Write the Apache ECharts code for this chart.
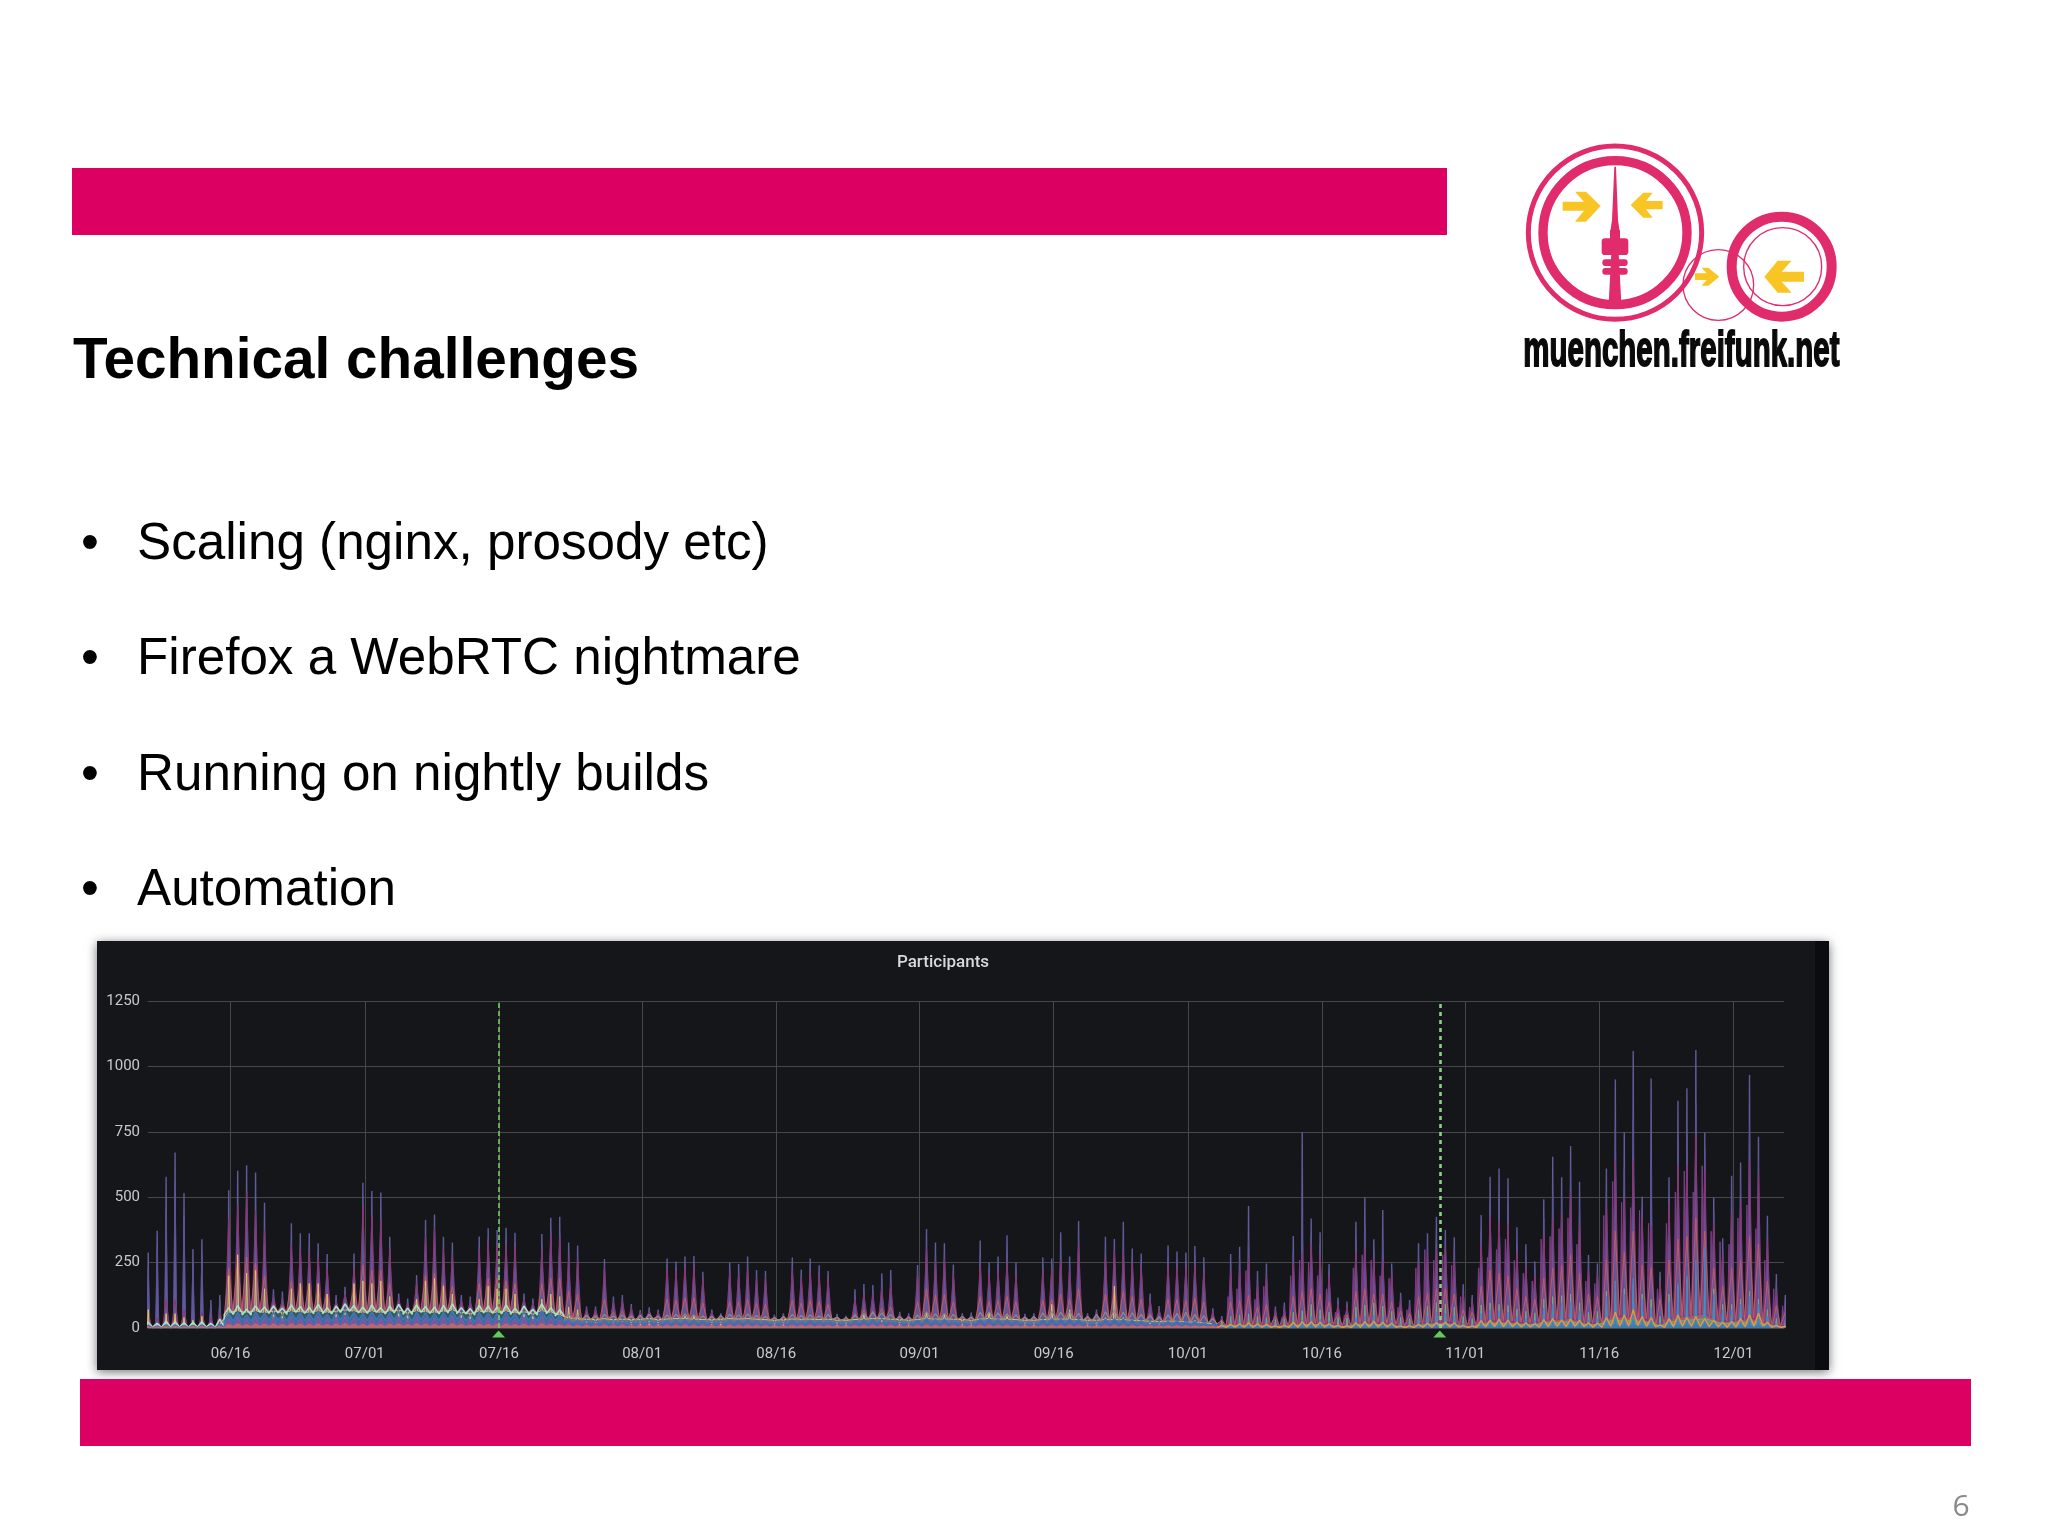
<!DOCTYPE html>
<html><head><meta charset="utf-8">
<style>html,body{margin:0;padding:0;background:#fff}#c{width:2048px;height:1536px}</style>
<script src="https://cdn.jsdelivr.net/npm/echarts@6/dist/echarts.min.js"></script>
</head><body><div id="c"></div>
<script>
const tickLabels=['06/16','07/01','07/16','08/01','08/16','09/01','09/16','10/01','10/16','11/01','11/16','12/01'];
const yTicks=[0,250,500,750,1000,1250];
const annotationTimes=[[7,15,23],[10,29,4]];
const bullets=['Scaling (nginx, prosody etc)','Firefox a WebRTC nightmare','Running on nightly builds','Automation'];
const topPeak=[289,372,578,671,515,302,339,107,126,527,
601,622,594,479,148,139,400,362,362,324,
283,126,158,285,555,524,518,349,132,113,
203,413,434,349,327,126,120,350,381,375,
383,364,132,113,359,421,425,327,315,82,
82,264,120,126,92,69,79,71,266,254,
273,275,215,71,56,250,245,273,222,218,
50,56,269,224,266,240,218,54,46,148,
168,164,209,222,62,56,241,378,327,324,
243,56,59,334,250,273,355,250,54,56,
269,266,366,273,409,56,71,349,340,406,
304,285,132,84,315,292,289,313,270,75,
46,283,311,466,218,247,82,97,352,748,
419,366,245,117,101,406,499,339,451,247,
135,107,324,362,425,375,347,167,126,432,
578,610,572,385,320,254,492,655,576,696,
559,279,247,610,950,747,1059,502,954,215,
576,869,916,1063,747,499,343,582,633,967,
731,429,206,126];
const indigoPeak=[230,300,450,560,430,250,280,90,105,400,
470,520,450,380,130,120,330,320,310,290,
250,110,140,250,470,430,420,310,115,98,
180,360,390,310,290,112,105,310,340,330,
340,325,118,100,320,370,360,290,280,74,
74,240,108,112,82,62,70,64,240,230,
245,245,195,64,50,225,220,245,200,198,
45,50,240,205,240,215,198,48,42,125,
145,142,180,190,56,50,220,320,280,285,
220,50,52,280,225,245,295,225,48,50,
240,240,300,245,340,50,64,300,300,330,
270,250,118,76,270,260,255,275,240,68,
42,245,265,340,195,220,74,84,295,420,
350,320,220,105,90,340,390,300,340,225,
120,95,285,320,360,340,300,150,115,370,
480,500,470,330,275,225,420,510,500,590,
470,250,220,520,760,610,800,460,640,195,
500,720,740,860,680,440,300,500,550,780,
640,380,175,110];
const shoulderPeak=[20,120,150,220,110,160,30,40,200,260,
250,200,150,60,50,230,280,260,200,190,
80,70,230,300,260,280,240,120,80,230,
270,300,340,260,210,180,340,350,380,420,
320,180,170,430,560,480,460,450,400,150,
400,520,600,520,620,370,330,320,420,470,
380,260,150,85];
const magentaPeak=[60,40,110,110,70,30,60,40,60,420,
470,520,450,370,120,110,320,300,290,270,
230,100,130,230,470,430,410,300,110,90,
170,350,380,300,280,105,100,300,330,320,
320,310,110,95,300,350,340,270,260,70,
70,230,100,105,75,60,65,60,230,220,
235,235,190,60,48,210,205,225,190,190,
42,48,220,190,215,205,190,46,40,110,
130,130,150,165,52,48,205,300,255,265,
205,48,50,240,205,220,250,205,46,48,
220,225,260,225,320,48,58,270,300,285,
250,235,105,70,240,235,235,240,215,60,
38,210,220,270,165,195,68,70,250,290,
320,280,200,92,80,290,310,265,260,210,
110,85,250,280,300,310,260,130,105,320,
430,410,400,290,240,200,360,420,440,520,
400,220,200,470,640,500,640,420,390,180,
480,620,620,740,600,400,280,440,480,640,
590,330,140,95];
const salmonPeak=[20,15,30,35,25,15,20,15,25,230,
260,270,250,200,90,85,180,170,170,150,
130,80,95,150,240,220,220,170,85,75,
110,200,210,170,160,80,75,170,190,190,
180,170,75,70,170,190,190,140,130,50,
50,110,60,65,50,45,48,45,110,105,
115,115,95,45,38,100,100,110,95,90,
36,38,105,95,105,100,90,36,32,55,
70,65,75,80,40,36,100,150,125,130,
100,36,38,120,100,105,120,100,35,36,
105,110,130,110,150,36,42,130,140,140,
120,110,55,45,110,110,105,115,100,40,
28,100,105,125,80,90,45,45,120,140,
150,130,100,55,50,140,150,130,130,100,
65,55,120,135,150,150,130,70,60,160,
220,210,200,150,120,110,190,230,240,280,
210,130,120,260,370,290,370,240,230,110,
260,340,350,420,370,230,160,230,260,350,
320,180,85,60];
const yellowPeak=[70,15,55,55,40,30,45,8,15,200,
280,210,220,150,35,30,150,170,170,170,
130,40,50,170,180,170,180,120,40,30,
110,180,190,160,130,35,30,110,160,150,
150,130,40,30,110,130,120,80,70,15,
15,40,15,20,12,10,12,10,40,35,
45,45,30,10,8,30,30,40,30,25,
8,8,30,25,30,25,25,8,8,25,
50,40,20,25,8,8,25,60,40,50,
25,8,8,40,60,40,45,30,8,8,
30,90,40,70,30,8,8,40,160,40,
30,25,15,12,30,30,25,30,25,10];
const baseLow=[4,3,3,4,3,3,4,3,8,60,
65,60,65,60,65,60,65,62,60,66,
60,65,70,65,60,65,60,65,68,60,
65,62,60,64,68,60,56,64,62,60,
65,58,62,55,66,60,50,38,34,34,
32,36,32,34,32,34,36,32,34,36,
36,34,32,32,34,36,34,36,34,32,
30,32,34,34,34,32,34,30,30,32,
34,36,36,34,32,30,32,36,34,34,
34,32,30,34,36,34,34,32,30,30,
32,34,34,34,32,30,30,32,32,32,
30,28,26,24,26,26,24,22,20,16,
9,12,12,12,10,10,8,8,14,16,
18,16,14,10,8,16,20,20,18,14,
8,6,16,20,24,24,18,10,7,22,
28,26,26,22,20,20,28,32,34,38,
30,18,20,38,46,42,46,34,30,12,
34,42,46,50,54,40,26,28,32,38,
34,18,8,8];
const tealPeak=[22,18,26,24,20,22,24,18,34,78,
86,72,84,80,84,76,88,82,80,90,
78,84,92,86,80,88,78,84,90,76,
88,82,80,86,92,78,74,86,84,80,
88,76,84,72,92,78,70,52,46,48,
44,52,46,50,44,48,52,44,50,52,
54,50,46,44,48,52,50,54,48,44,
40,44,52,48,50,46,52,42,40,48,
56,60,58,52,44,42,50,62,54,56,
52,44,42,60,62,58,54,50,42,44,
58,64,60,62,56,44,52,62,70,60,
58,52,46,42,50,56,60,52,48,36,
28,44,50,54,44,40,32,34,60,66,
90,70,60,40,38,80,88,95,84,64,
40,36,70,84,96,92,80,44,36,88,
96,90,86,72,64,58,110,120,124,130,
96,60,64,140,180,150,170,130,110,44,
130,160,190,200,220,150,90,90,110,140,
110,70,36,30];
const tealLow=[3,2,3,3,2,3,3,2,4,52,
58,50,60,56,58,52,60,56,54,62,
54,60,64,58,56,60,54,58,62,52,
60,56,54,58,62,54,50,58,56,54,
60,52,58,50,62,54,46,34,30,32,
30,34,30,32,30,32,34,30,32,34,
34,32,30,30,32,34,32,34,32,30,
28,30,32,32,32,30,32,28,28,30,
32,34,34,32,30,28,30,34,32,32,
32,30,28,32,34,32,32,30,28,28,
30,32,32,32,30,28,28,30,30,30,
28,26,24,22,24,24,22,20,18,14,
8,10,10,10,8,8,6,6,10,12,
14,12,10,6,6,12,14,14,12,10,
5,4,10,12,14,14,12,6,5,12,
18,16,16,14,12,12,18,20,22,24,
18,12,12,24,30,26,30,22,20,8,
22,26,30,32,36,26,16,18,20,24,
20,12,5,4];
const bluePeak=[10,8,12,12,10,10,12,8,14,56,
60,50,62,56,60,52,62,58,56,64,
52,60,66,60,56,62,56,60,64,54,
62,58,56,60,66,56,50,60,58,56,
62,54,60,50,66,56,48,30,28,30,
26,30,28,30,26,28,32,26,30,30,
32,30,28,26,28,30,30,32,28,26,
24,26,30,28,30,28,30,24,24,28,
32,34,34,30,26,24,30,38,32,34,
30,24,24,34,36,34,32,28,24,24,
32,36,34,34,32,24,26,34,36,34,
30,28,24,20,26,28,28,26,22,14,
8,18,20,22,16,14,8,8,24,30,
44,34,28,12,10,40,46,50,44,30,
14,12,36,44,60,56,44,16,12,56,
70,66,60,44,36,30,76,90,96,100,
66,30,36,120,180,130,190,110,80,20,
100,170,200,260,310,130,70,70,90,120,
90,44,14,10];
const blueLow=[1,1,1,1,1,1,1,1,2,26,
30,26,32,28,30,26,32,28,28,32,
26,30,34,30,28,32,28,30,32,26,
32,28,28,30,34,28,24,30,28,28,
32,26,30,24,34,28,24,18,16,17,
16,18,16,17,16,16,18,16,17,18,
18,17,16,16,17,18,17,18,16,16,
15,16,17,17,17,16,17,15,15,16,
17,18,18,17,16,15,16,18,17,17,
17,16,15,17,18,17,17,16,15,15,
16,17,17,17,16,15,15,16,16,16,
15,14,13,12,13,13,12,11,10,8,
3,4,4,5,4,4,3,3,5,5,
6,5,4,3,3,5,6,6,5,4,
3,2,4,5,6,6,5,3,2,6,
8,7,7,6,5,5,8,9,10,11,
8,5,6,11,14,12,14,10,9,4,
10,12,14,15,16,12,7,8,9,11,
9,5,2,2];
const violetPeak=[4,3,4,4,3,3,4,3,6,38,
42,36,44,40,42,36,44,40,38,46,
36,42,46,42,38,44,38,42,44,36,
44,40,38,42,46,38,34,42,40,38,
44,36,42,34,46,38,32,22,20,20,
18,22,20,22,18,20,22,18,20,22,
22,20,18,18,20,22,20,22,20,18,
16,18,20,20,20,18,20,16,16,18,
20,22,22,20,18,16,18,22,20,20,
20,18,16,20,22,20,20,18,16,16,
18,20,20,20,18,16,16,18,18,18,
16,15,14,12,13,14,12,11,10,8];
const floorPeak=[3,2,3,3,2,3,3,2,4,14,
16,13,16,15,16,13,16,15,14,16,
13,15,17,15,14,16,14,15,16,13,
16,15,14,15,17,14,12,15,14,14,
16,13,15,12,17,14,12,10,9,9,
8,10,9,10,8,9,10,8,9,10,
10,9,8,8,9,10,9,10,9,8,
7,8,9,9,9,8,9,7,7,8,
9,10,10,9,8,7,8,10,9,9,
9,8,7,9,10,9,9,8,7,7,
8,9,9,9,8,7,7,8,9,8,
8,7,7,6,8,8,8,8,7,5,
10,14,16,20,16,14,8,10,22,24,
24,22,16,10,8,20,24,26,22,18,
8,8,14,18,20,22,20,10,8,28,
30,34,30,22,20,16,32,36,30,34,
30,20,18,40,60,50,70,44,40,12,
36,50,40,44,36,30,22,24,36,50,
56,22,10,6];
const floorLow=[1,1,1,1,1,1,1,1,1,4,
5,4,5,4,5,4,5,4,4,5,
4,5,5,4,4,5,4,5,5,4,
5,4,4,5,5,4,4,5,4,4,
5,4,4,4,5,4,4,3,3,3,
3,3,3,3,3,3,3,3,3,3,
3,3,3,3,3,3,3,3,3,3,
3,3,3,3,3,3,3,3,3,3,
3,3,3,3,3,3,3,3,3,3,
3,3,3,3,3,3,3,3,3,3,
3,3,3,3,3,3,3,3,3,3,
3,3,3,3,3,3,3,3,3,2,
2,3,3,3,3,3,2,2,3,4,
4,4,3,2,2,3,4,4,4,3,
2,2,3,3,4,4,3,2,2,4,
5,5,5,4,4,3,5,6,5,6,
5,3,3,6,8,7,9,6,5,2,
5,7,6,6,5,5,3,4,5,7,
8,3,2,1];
const HOUR=3600000, DAY=24*HOUR;
const firstPeak=Date.UTC(2020,5,6,19);
const axisMin=Date.UTC(2020,5,6,18,24), axisMax=Date.UTC(2020,11,6,15,30);
const tickValues=tickLabels.map(s=>Date.UTC(2020,+s.slice(0,2)-1,+s.slice(3)));
const pad=n=>String(n).padStart(2,'0');
function spikes(peak,low,hours,from,to,shift,peakStart){
  const out=[],off=(shift||0)*HOUR,ps=peakStart||0;
  for(let d=from;d<to;d++){
    const t=firstPeak+d*DAY+off;
    out.push([t-hours*HOUR,low[d]],[t,peak[d-ps]],[t+hours*HOUR,low[d]]);
  }
  return out;
}
function layer(name,color,data,lineW,fill,fillOp){
  const s={name,type:'line',data,showSymbol:false,symbol:'none',smooth:false,sampling:false,silent:true,clip:true,
    lineStyle:{color,width:lineW},itemStyle:{color},emphasis:{disabled:true}};
  if(fill) s.areaStyle={color:fill,opacity:fillOp};
  return s;
}
const N=topPeak.length;
const anno=annotationTimes.map(a=>Date.UTC(2020,a[0]-1,a[1],a[2]));
const series=[
  layer('top','#5f5c9e',spikes(topPeak,baseLow,1.8,0,N),1.4,'#5f5c9e',0.75),
  layer('indigo','#5d5298',spikes(indigoPeak,baseLow,4.5,0,N),1,'#5a5198',0.9),
  layer('shoulder','#7a3d88',spikes(shoulderPeak,baseLow,4,120,N,-7,120),1,'#7a3d88',0.9),
  layer('magenta','#8a3673',spikes(magentaPeak,baseLow,9,0,N),1,'#8a3672',0.95),
  layer('salmon','#b65f68',spikes(salmonPeak,baseLow,11,0,N),1,'#b25c66',0.92),
  layer('yellow','#e5c35c',spikes(yellowPeak,baseLow,2.4,0,120),1,'#e2b654',0.85),
  layer('bandTeal','#a8e2c8',spikes(tealPeak,tealLow,12,0,47),1.6,'#2d5560',0.95),
  layer('bandGrey','#8d8a8e',spikes(tealPeak,tealLow,12,47,120),1.2,'#75707c',0.95),
  layer('midGreen','#6fae7c',spikes(tealPeak,tealLow,2,120,N),1,'#5f9f80',0.8),
  layer('bandBlue','#3f78b8',spikes(bluePeak,blueLow,12,0,120),1.4,'#3c6ea8',0.95),
  layer('midBlue','#3f86c8',spikes(bluePeak,blueLow,2.5,120,N),1,'#3a78b6',0.85),
  layer('bandViolet','#7f5da9',spikes(violetPeak,floorLow,12,0,120),1.2,'#735a9c',0.95),
  layer('bandFloor','#c26a68',spikes(floorPeak,floorLow,12,0,120),1.2,'#b86a6c',0.95),
  layer('orange','#e8963c',spikes(floorPeak,floorLow,12,120,N),1.4)
];
series[0].markLine={silent:true,symbol:'none',animation:false,label:{show:false},
  data:[{xAxis:anno[0],lineStyle:{color:'#6fcf5f',width:1.6,type:[5,3]}},
        {xAxis:anno[1],lineStyle:{color:'#8ed08a',width:2.6,type:[4,4]}}]};
series[0].markPoint={silent:true,animation:false,symbol:'triangle',symbolSize:[13,7],symbolOffset:[0,6],
  itemStyle:{color:'#62c95a'},label:{show:false},
  data:anno.map(t=>({coord:[t,0]}))};
const PINK='#dc0063', LOGO='#e12c6b', GOLD='#f9c525', sans='"Liberation Sans",Arial,sans-serif';
const ring=(cx,cy,r,w)=>({type:'circle',shape:{cx,cy,r},style:{fill:'none',stroke:LOGO,lineWidth:w}});
const poly=(points,fill)=>({type:'polygon',shape:{points},style:{fill}});
const box=(x,y,width,height,r,fill)=>({type:'rect',shape:{x,y,width,height,r},style:{fill}});
const elements=[
  {type:'rect',shape:{x:72,y:168,width:1375,height:67},style:{fill:PINK}},
  {type:'rect',shape:{x:80,y:1379,width:1891,height:67},style:{fill:PINK}},
  {type:'rect',z:-10,shape:{x:97,y:941,width:1732,height:429},style:{fill:'#15161a',shadowBlur:10,shadowColor:'rgba(0,0,0,0.55)',shadowOffsetY:2}},
  {type:'rect',z:-9,shape:{x:1815,y:941,width:14,height:429},style:{fill:'#0b0c0f'}},
  {type:'text',x:73,y:362,style:{text:'Technical challenges',font:'bold 56.7px '+sans,fill:'#000',verticalAlign:'middle'}},
  {type:'text',x:1961,y:1507,style:{text:'6',font:'30px "Open Sans",sans-serif',fill:'#8a8a8a',align:'center',verticalAlign:'middle'}},
  {type:'group',x:1480,y:120,scaleX:1/3,scaleY:1/3,children:[
    ring(405,338,260,15),ring(405,338,216,28),
    poly([[403,140],[408,140],[414,300],[419,335],[391,335],[396,300]],LOGO),
    box(365,355,80,50,10,LOGO),box(367,418,76,20,9,LOGO),box(367,444,76,20,9,LOGO),
    box(390,330,30,30,0,LOGO),poly([[394,400],[416,400],[424,550],[386,550]],LOGO),
    poly([[248,245],[312,245],[285,215],[318,215],[362,258],[318,305],[285,305],[312,272],[248,272]],GOLD),
    poly([[548,243],[498,243],[518,218],[490,218],[452,255],[490,293],[518,293],[498,268],[548,268]],GOLD),
    ring(715,495,106,4),
    poly([[645,460],[680,460],[665,443],[685,443],[718,470],[685,497],[665,497],[680,480],[645,480]],GOLD),
    ring(905,440,150,30),ring(908,440,117,4),
    poly([[972,455],[905,455],[935,422],[893,422],[853,470],[893,518],[935,518],[905,485],[972,485]],GOLD),
    {type:'text',x:130,y:698,scaleX:0.66,scaleY:1.1,originX:0,originY:0,style:{text:'muenchen.freifunk.net',font:'bold 134px "Liberation Sans Narrow","Liberation Sans",sans-serif',fill:'#0a0a0a',stroke:'#0a0a0a',lineWidth:5,verticalAlign:'middle'}}
  ]}
];
bullets.forEach((b,i)=>{
  elements.push({type:'text',x:81,y:545+i*115.3,style:{text:'•',font:'51px '+sans,fill:'#000',verticalAlign:'middle'}});
  elements.push({type:'text',x:137,y:545+i*115.3,style:{text:b,font:'51.2px '+sans,fill:'#000',verticalAlign:'middle'}});
});
const chart=echarts.init(document.getElementById('c'),null,{renderer:'canvas',width:2048,height:1536});
chart.setOption({
  animation:false,backgroundColor:'#ffffff',
  title:{text:'Participants',left:938,top:949,textAlign:'center',textStyle:{color:'#d8d9da',fontFamily:'Roboto',fontWeight:500,fontSize:17}},
  grid:{left:148,right:264,top:1001,bottom:208,containLabel:false},
  xAxis:{type:'value',min:axisMin,max:axisMax,scale:true,
    axisLine:{show:true,lineStyle:{color:'#46474d'}},axisTick:{show:false,customValues:tickValues},
    axisLabel:{customValues:tickValues,margin:19,color:'#c8cacd',fontFamily:'Roboto',fontSize:15,hideOverlap:false,showMinLabel:true,showMaxLabel:true,
      formatter:v=>{const d=new Date(v);return pad(d.getUTCMonth()+1)+'/'+pad(d.getUTCDate());}},
    splitLine:{show:true,lineStyle:{color:'#46474d',width:1}}},
  yAxis:{type:'value',min:yTicks[0],max:yTicks[yTicks.length-1],interval:yTicks[1]-yTicks[0],
    axisLine:{show:false},axisTick:{show:false},
    axisLabel:{margin:8,color:'#c8cacd',fontFamily:'Roboto',fontSize:15,formatter:v=>String(v)},
    splitLine:{lineStyle:{color:'#46474d',width:1}}},
  series,
  graphic:{elements}
});
</script></body></html>
